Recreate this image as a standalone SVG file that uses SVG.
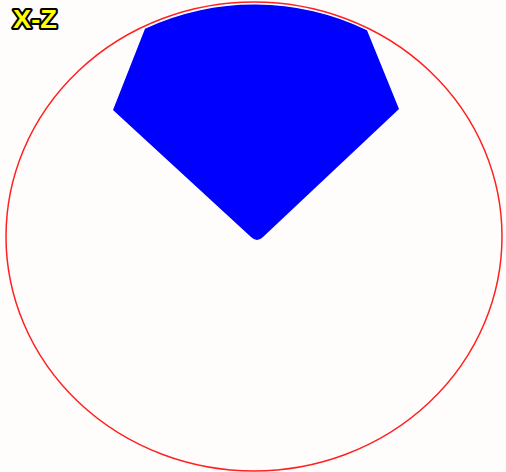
<svg xmlns="http://www.w3.org/2000/svg" width="506" height="472" viewBox="0 0 506 472">
  <style>
    .bound { fill: none; stroke: #ff2020; stroke-width: 1.5; }
    .region { fill: #0000ff; stroke: none; }
    .label { font-family: "Liberation Sans", Arial, sans-serif; font-weight: bold; font-size: 25px; fill: #ffff00; stroke: #000000; stroke-width: 4; paint-order: stroke; stroke-linejoin: round; }
  </style>
  <rect x="0" y="0" width="506" height="472" fill="#fffdfc"/>
  <g id="region">
    <path class="region" d="M 145 28.7 A 246 232 0 0 1 367 30.2 L 399 109 L 263 237 Q 257 243 251 237 L 113 110 Z"/>
  </g>
  <g id="boundary">
    <ellipse class="bound" cx="254" cy="236.5" rx="248" ry="234.5"/>
  </g>
  <g id="title">
    <text class="label" x="13" y="28" textLength="44" lengthAdjust="spacingAndGlyphs">X-Z</text>
  </g>
</svg>
